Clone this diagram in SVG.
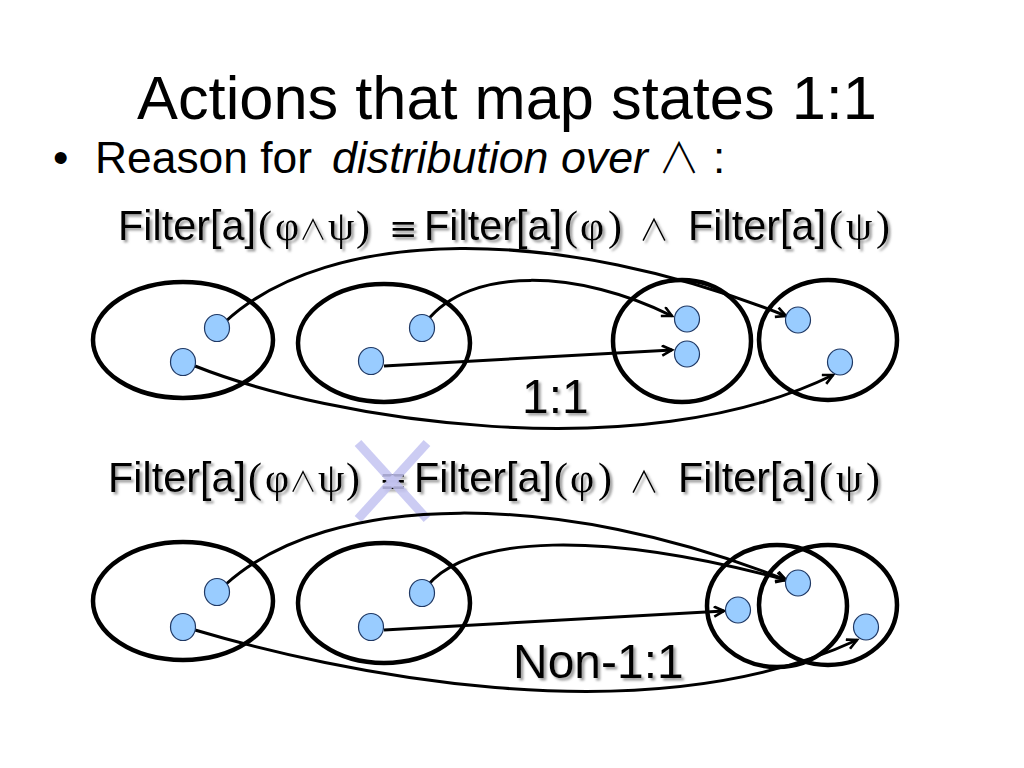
<svg xmlns="http://www.w3.org/2000/svg" width="1024" height="768" viewBox="0 0 1024 768">
<defs>
<style>
.sans{font-family:"Liberation Sans",Arial,sans-serif;fill:#000}
.ser{font-family:"Liberation Serif","DejaVu Serif",serif}
.sym{font-family:"DejaVu Sans",sans-serif}
.wedge{font-family:"Noto Sans CJK JP","DejaVu Sans",sans-serif;font-weight:300}
.state{fill:none;stroke:#000;stroke-width:4.5}
.dot{fill:#99ccff;stroke:#1f3864;stroke-width:1.2}
.arr{fill:none;stroke:#000;stroke-width:3;marker-end:url(#ah)}
.cross{stroke:#c4c4f2;stroke-width:9;stroke-linecap:butt;opacity:0.85}
</style>
<marker id="ah" markerWidth="14" markerHeight="14" refX="11" refY="6" orient="auto" markerUnits="userSpaceOnUse">
<path d="M1,1 L11,6 L1,11" fill="none" stroke="#000" stroke-width="2.6" stroke-linejoin="miter"/>
</marker>
<filter id="sh" x="-5%" y="-20%" width="110%" height="150%">
<feDropShadow dx="2.5" dy="2.5" stdDeviation="1.2" flood-color="#777" flood-opacity="0.7"/>
</filter>
</defs>
<rect width="1024" height="768" fill="#fff"/>

<text id="title" class="sans" x="137" y="119" font-size="62" textLength="740" lengthAdjust="spacingAndGlyphs">Actions that map states 1:1</text>

<g id="bullet" class="sans" font-size="44">
<text x="53" y="173">•</text>
<text x="95" y="173" textLength="217" lengthAdjust="spacingAndGlyphs">Reason for</text>
<text x="332" y="173" font-style="italic" textLength="316" lengthAdjust="spacingAndGlyphs">distribution over</text>
<text x="658" y="173" class="wedge" font-size="42">∧</text>
<text x="713" y="173">:</text>
</g>

<g id="formula1" class="sans" font-size="42" filter="url(#sh)">
<text y="240"><tspan x="118" textLength="138" lengthAdjust="spacingAndGlyphs">Filter[a]</tspan><tspan class="ser" x="258">(</tspan><tspan class="ser" x="275">φ</tspan><tspan class="wedge" font-size="28" x="299">∧</tspan><tspan class="ser" x="328">ψ</tspan><tspan class="ser" x="356">)</tspan><tspan class="sym" font-size="34" x="389">≡</tspan><tspan x="424" textLength="138" lengthAdjust="spacingAndGlyphs">Filter[a]</tspan><tspan class="ser" x="564">(</tspan><tspan class="ser" x="580">φ</tspan><tspan class="ser" x="608">)</tspan><tspan class="wedge" font-size="30" x="639">∧</tspan><tspan x="688" textLength="138" lengthAdjust="spacingAndGlyphs">Filter[a]</tspan><tspan class="ser" x="829">(</tspan><tspan class="ser" x="846">ψ</tspan><tspan class="ser" x="876">)</tspan></text>
</g>

<g id="formula2" class="sans" font-size="42" filter="url(#sh)">
<text y="492"><tspan x="108" textLength="138" lengthAdjust="spacingAndGlyphs">Filter[a]</tspan><tspan class="ser" x="248">(</tspan><tspan class="ser" x="265">φ</tspan><tspan class="wedge" font-size="28" x="289">∧</tspan><tspan class="ser" x="318">ψ</tspan><tspan class="ser" x="346">)</tspan><tspan class="sym" font-size="34" x="379">≡</tspan><tspan x="414" textLength="138" lengthAdjust="spacingAndGlyphs">Filter[a]</tspan><tspan class="ser" x="554">(</tspan><tspan class="ser" x="570">φ</tspan><tspan class="ser" x="598">)</tspan><tspan class="wedge" font-size="30" x="629">∧</tspan><tspan x="678" textLength="138" lengthAdjust="spacingAndGlyphs">Filter[a]</tspan><tspan class="ser" x="819">(</tspan><tspan class="ser" x="836">ψ</tspan><tspan class="ser" x="866">)</tspan></text>
</g>

<g id="notmark">
<line class="cross" x1="358" y1="443" x2="427" y2="519"/>
<line class="cross" x1="427" y1="443" x2="358" y2="519"/>
</g>

<!-- top row states -->
<g id="s1a"><ellipse class="state" cx="183" cy="340" rx="90" ry="58"/></g>
<g id="s2a"><ellipse class="state" cx="384" cy="343" rx="86" ry="59"/></g>
<g id="s3a"><ellipse class="state" cx="682" cy="341" rx="69" ry="61"/></g>
<g id="s4a"><ellipse class="state" cx="828" cy="340" rx="69" ry="60"/></g>

<!-- bottom row states -->
<g id="s1b"><ellipse class="state" cx="183" cy="601" rx="90" ry="59"/></g>
<g id="s2b"><ellipse class="state" cx="384" cy="603" rx="86" ry="60"/></g>
<g id="s3b"><ellipse class="state" cx="777" cy="606" rx="70" ry="61"/></g>
<g id="s4b"><ellipse class="state" cx="828" cy="605" rx="69" ry="60"/></g>

<g id="connectors">
<path class="arr" d="M225,322 C330,225 560,225 786,316"/>
<path class="arr" d="M426,322 C470,265 580,270 672,316"/>
<path class="arr" d="M384,366 L672,350"/>
<path class="arr" d="M195,366 C330,420 640,470 833,375"/>
<path class="arr" d="M225,585 C330,490 560,490 786,580"/>
<path class="arr" d="M427,586 C470,535 600,530 786,580"/>
<path class="arr" d="M384,630 L724,611"/>
<path class="arr" d="M195,630 C330,670 640,740 857,640"/>
</g>

<g id="dots">
<ellipse class="dot" cx="217" cy="328" rx="12.5" ry="13.5"/>
<ellipse class="dot" cx="183" cy="362" rx="12.5" ry="13.5"/>
<ellipse class="dot" cx="422" cy="328" rx="12.5" ry="13.5"/>
<ellipse class="dot" cx="371" cy="361" rx="12.5" ry="13.5"/>
<ellipse class="dot" cx="687" cy="319" rx="12.5" ry="13"/>
<ellipse class="dot" cx="687" cy="354" rx="12.5" ry="13"/>
<ellipse class="dot" cx="798" cy="320" rx="12.5" ry="13"/>
<ellipse class="dot" cx="840" cy="362" rx="12.5" ry="13"/>
<ellipse class="dot" cx="217" cy="592" rx="12.5" ry="13.5"/>
<ellipse class="dot" cx="183" cy="627" rx="12.5" ry="13.5"/>
<ellipse class="dot" cx="422" cy="593" rx="12.5" ry="13.5"/>
<ellipse class="dot" cx="371" cy="627" rx="12.5" ry="13.5"/>
<ellipse class="dot" cx="798" cy="583" rx="12.5" ry="13"/>
<ellipse class="dot" cx="738" cy="610" rx="12.5" ry="13"/>
<ellipse class="dot" cx="866" cy="627" rx="12.5" ry="13"/>
</g>

<text id="lbl1" class="sans" x="522" y="413" font-size="48" filter="url(#sh)">1:1</text>
<text id="lbl2" class="sans" x="513" y="678" font-size="48" filter="url(#sh)">Non-1:1</text>
</svg>
